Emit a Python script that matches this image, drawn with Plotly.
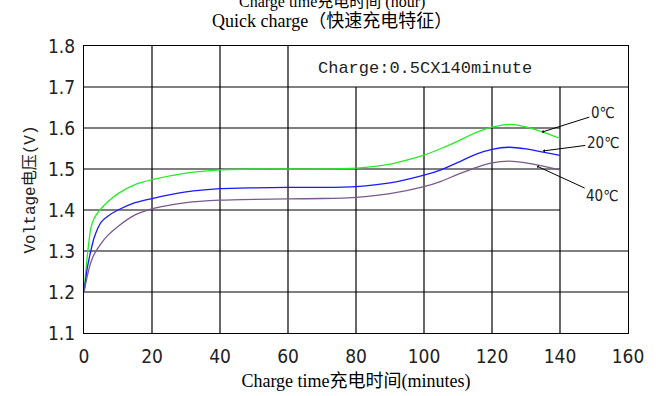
import plotly.graph_objects as go

# ---- data ----
time_min = [0, 1, 2, 3, 5, 7, 10, 15, 20, 30, 40, 50, 60, 70, 80, 90, 100, 105, 110, 115, 120, 125, 130, 135, 140]
v_0c = [1.20, 1.29, 1.355, 1.38, 1.403, 1.42, 1.44, 1.462, 1.474, 1.49, 1.498, 1.50, 1.50, 1.50, 1.502, 1.512,
        1.534, 1.55, 1.568, 1.588, 1.602, 1.609, 1.603, 1.59, 1.575]
v_20c = [1.20, 1.26, 1.30, 1.333, 1.37, 1.385, 1.40, 1.418, 1.428, 1.444, 1.452, 1.454, 1.455, 1.455, 1.457, 1.466,
         1.485, 1.498, 1.516, 1.535, 1.548, 1.553, 1.549, 1.541, 1.533]
v_40c = [1.20, 1.24, 1.272, 1.292, 1.318, 1.338, 1.36, 1.388, 1.403, 1.418, 1.424, 1.426, 1.427, 1.428, 1.431, 1.440,
         1.457, 1.47, 1.487, 1.503, 1.515, 1.519, 1.515, 1.507, 1.498]
series_names = ["0℃", "20℃", "40℃"]
x_ticks = [0, 20, 40, 60, 80, 100, 120, 140, 160]
y_ticks = [1.1, 1.2, 1.3, 1.4, 1.5, 1.6, 1.7, 1.8]

colors = ["#22ee22", "#1a1aff", "#7a5a8c"]
narrow = "Liberation Sans Narrow, DejaVu Sans Condensed, Liberation Mono, Noto Sans CJK SC, sans-serif"
mono = "Liberation Mono, Noto Sans CJK SC, monospace"
serif = "Liberation Serif, Noto Sans CJK SC, serif"

fig = go.Figure()
for name, vals, c in zip(series_names, [v_0c, v_20c, v_40c], colors):
    fig.add_trace(go.Scatter(x=time_min, y=vals, mode="lines", name=name,
                             line=dict(color=c, width=1.3, shape="spline", smoothing=0.6),
                             showlegend=False))

# grid lines (partial, as in the reference)
shapes = []
lw = dict(color="black", width=1.2)
for xv in x_ticks[1:-1]:
    top = 1.8 if xv <= 60 else 1.7
    shapes.append(dict(type="line", xref="x", yref="y", x0=xv, x1=xv, y0=1.1, y1=top, line=lw, layer="below"))
for yv in y_ticks[1:-1]:
    right = 160 if yv in (1.2, 1.3, 1.7) else 140
    shapes.append(dict(type="line", xref="x", yref="y", x0=0, x1=right, y0=yv, y1=yv, line=lw, layer="below"))

annotations = [
    dict(text="Charge:0.5CX140minute", x=100.4, y=1.744, xref="x", yref="y", showarrow=False,
         xanchor="center", yanchor="middle", font=dict(family=mono, size=17, color="#222")),
    dict(text="Quick charge（快速充电特征）", x=0.455, y=1.0, xref="paper", yref="paper", yshift=25,
         yanchor="middle", showarrow=False, font=dict(family=serif, size=18, color="black")),
    dict(text="Charge time充电时间 (hour)", x=0.455, y=1.0, xref="paper", yref="paper", yshift=44,
         yanchor="middle", showarrow=False, font=dict(family=serif, size=16, color="black")),
]
# label arrows
label_pos = [(134.7, 1.590, 152.6, 1.637), (135.0, 1.544, 152.6, 1.563), (133.2, 1.507, 152.4, 1.434)]
for name, (tx, ty, lx, ly) in zip(series_names, label_pos):
    annotations.append(dict(text=name, x=tx, y=ty, ax=lx, ay=ly, xref="x", yref="y", axref="x", ayref="y",
                            showarrow=True, arrowhead=1, arrowsize=0.6, arrowwidth=1, arrowcolor="black",
                            font=dict(family=narrow, size=15, color="#222")))

fig.update_layout(
    width=661, height=396,
    margin=dict(l=84, r=33, t=46, b=63, autoexpand=False),
    paper_bgcolor="white", plot_bgcolor="white",
    shapes=shapes,
    xaxis=dict(range=[0, 160], tickvals=x_ticks, ticktext=[str(v) for v in x_ticks], showgrid=False,
               zeroline=False, showline=True, mirror=True, linecolor="black", linewidth=1.2, ticks="",
               automargin=False, ticklabelstandoff=6,
               tickfont=dict(family=narrow, size=19, color="#222"),
               title=dict(text="Charge time充电时间(minutes)", font=dict(family=serif, size=18, color="black"),
                          standoff=8)),
    yaxis=dict(range=[1.1, 1.8], tickvals=y_ticks, ticktext=[f"{v:.1f}" for v in y_ticks], showgrid=False,
               zeroline=False, showline=True, mirror=True, linecolor="black", linewidth=1.2, ticks="",
               automargin=False, ticklabelstandoff=4,
               tickfont=dict(family=narrow, size=19, color="#222"),
               title=dict(text="Voltage电压(V)", font=dict(family=mono, size=16, color="#222"), standoff=8)),
    annotations=annotations,
)

fig.write_html("out.html", config={"displayModeBar": False},
               post_script="document.body.style.margin='0'; document.body.style.overflow='hidden';")
